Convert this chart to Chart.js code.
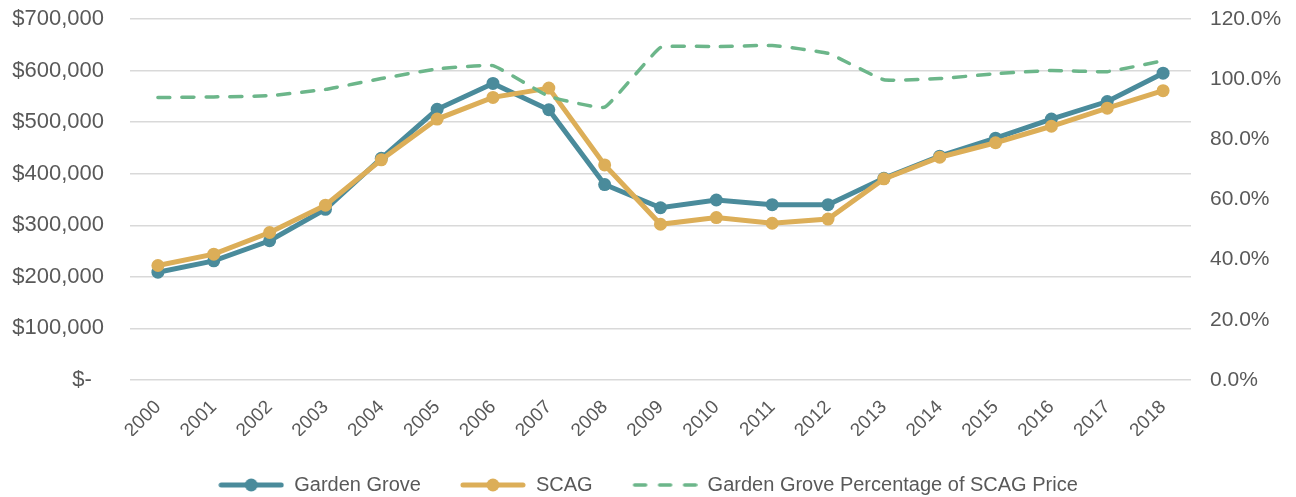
<!DOCTYPE html>
<html>
<head>
<meta charset="utf-8">
<script src="https://cdn.jsdelivr.net/npm/chart.js@4/dist/chart.umd.min.js"></script>
<style>
  html, body { margin: 0; padding: 0; background: #fff; }
  #wrap { width: 1296px; height: 497px; position: relative; }
</style>
</head>
<body>
<div id="wrap"><canvas id="priceChart"></canvas></div>
<script>
// data
const years = ['2000', '2001', '2002', '2003', '2004', '2005', '2006', '2007', '2008', '2009',
    '2010', '2011', '2012', '2013', '2014', '2015', '2016', '2017', '2018'];
const gardenGrove = [209000, 231000, 270000, 331000, 430000, 525000, 575000, 524000, 379000, 334000,
    349000, 340000, 340000, 391000, 434000, 469000, 506000, 540000, 595000];
const scag = [222000, 244000, 286000, 339000, 427000, 506000, 548000, 566000, 417000, 302000,
    315000, 304000, 312000, 390000, 432000, 460000, 492000, 527000, 561000];
const pctOfScag = [93.9, 94.1, 94.5, 96.6, 100.2, 103.4, 104.5, 94.3, 90.7, 110.5,
    110.8, 111.2, 108.6, 99.8, 100.2, 101.8, 102.9, 102.5, 106.1];
const leftTicks = [0, 100000, 200000, 300000, 400000, 500000, 600000, 700000];
const rightTicks = [0, 20, 40, 60, 80, 100, 120];

const TEAL = '#4a8b9b';
const GOLD = '#dcae58';
const GREEN = '#6cb68a';
const TEXT = '#595959';
const FONT = "'Liberation Sans', Arial, sans-serif";

// legend icons: line with a marker, or three dashes
function legendIcon(color, dashed) {
    const c = document.createElement('canvas');
    c.width = 66;
    c.height = 16;
    const ctx = c.getContext('2d');
    ctx.strokeStyle = color;
    ctx.lineCap = 'round';
    if (dashed) {
        ctx.lineWidth = 3.5;
        ctx.setLineDash([11, 14]);
        ctx.beginPath();
        ctx.moveTo(3, 8);
        ctx.lineTo(64, 8);
        ctx.stroke();
    } else {
        ctx.lineWidth = 5;
        ctx.beginPath();
        ctx.moveTo(3, 8);
        ctx.lineTo(63, 8);
        ctx.stroke();
        ctx.fillStyle = color;
        ctx.beginPath();
        ctx.arc(33, 8, 6.5, 0, Math.PI * 2);
        ctx.fill();
    }
    return c;
}

const chartData = {
    labels: years,
    datasets: [{
        label: 'Garden Grove',
        data: gardenGrove,
        yAxisID: 'y',
        borderColor: TEAL,
        backgroundColor: TEAL,
        borderWidth: 5,
        pointRadius: 6.5,
        pointBackgroundColor: TEAL,
        pointBorderWidth: 0,
        order: 2
    }, {
        label: 'SCAG',
        data: scag,
        yAxisID: 'y',
        borderColor: GOLD,
        backgroundColor: GOLD,
        borderWidth: 5,
        pointRadius: 6.5,
        pointBackgroundColor: GOLD,
        pointBorderWidth: 0,
        order: 1
    }, {
        label: 'Garden Grove Percentage of SCAG Price',
        data: pctOfScag,
        yAxisID: 'y1',
        borderColor: GREEN,
        backgroundColor: GREEN,
        borderWidth: 3.5,
        borderDash: [12, 12],
        borderCapStyle: 'round',
        pointRadius: 0,
        tension: 0.1,
        order: 0
    }]
};

const icons = [legendIcon(TEAL, false), legendIcon(GOLD, false), legendIcon(GREEN, true)];

function noPadding(axis) {
    axis.paddingTop = 0;
    axis.paddingBottom = 0;
    axis.paddingLeft = 0;
    axis.paddingRight = 0;
}

const config = {
    type: 'line',
    data: chartData,
    options: {
        responsive: true,
        maintainAspectRatio: false,
        animation: false,
        layout: {
            padding: { top: 19, right: 0, bottom: -8, left: 0 }
        },
        plugins: {
            legend: {
                position: 'bottom',
                labels: {
                    color: TEXT,
                    font: { family: FONT, size: 20 },
                    usePointStyle: true,
                    pointStyleWidth: 66,
                    padding: 39,
                    generateLabels: function (chart) {
                        return chart.data.datasets.map(function (ds, i) {
                            return {
                                text: ds.label,
                                fillStyle: ds.borderColor,
                                strokeStyle: ds.borderColor,
                                lineWidth: 0,
                                pointStyle: icons[i],
                                fontColor: TEXT,
                                hidden: false,
                                datasetIndex: i
                            };
                        });
                    }
                }
            },
            tooltip: { enabled: false }
        },
        scales: {
            x: {
                offset: true,
                grid: { display: false },
                border: { display: false },
                ticks: {
                    color: TEXT,
                    font: { family: FONT, size: 19 },
                    minRotation: 45,
                    maxRotation: 45,
                    padding: 8
                },
                afterFit: function (axis) {
                    noPadding(axis);
                    axis.height = 56;
                }
            },
            y: {
                position: 'left',
                min: 0,
                max: 700000,
                grid: { color: '#d9d9d9', lineWidth: 1.5, drawTicks: false },
                border: { display: false },
                afterBuildTicks: function (axis) {
                    axis.ticks = leftTicks.map(v => ({ value: v }));
                },
                ticks: {
                    color: TEXT,
                    font: { family: FONT, size: 22 },
                    padding: 26,
                    callback: function (v) {
                        if (v === 0) return '$-  ';
                        return '$' + v.toLocaleString('en-US');
                    }
                },
                afterFit: function (axis) {
                    noPadding(axis);
                    axis.width = 130;
                }
            },
            y1: {
                position: 'right',
                min: 0,
                max: 120,
                grid: { drawOnChartArea: false, drawTicks: false },
                border: { display: false },
                afterBuildTicks: function (axis) {
                    axis.ticks = rightTicks.map(v => ({ value: v }));
                },
                ticks: {
                    color: TEXT,
                    font: { family: FONT, size: 21 },
                    padding: 19,
                    callback: function (v) {
                        return v.toFixed(1) + '%';
                    }
                },
                afterFit: function (axis) {
                    noPadding(axis);
                    axis.width = 105;
                }
            }
        }
    }
};

var priceChart = new Chart(
    document.getElementById('priceChart'),
    config
);
</script>
</body>
</html>
